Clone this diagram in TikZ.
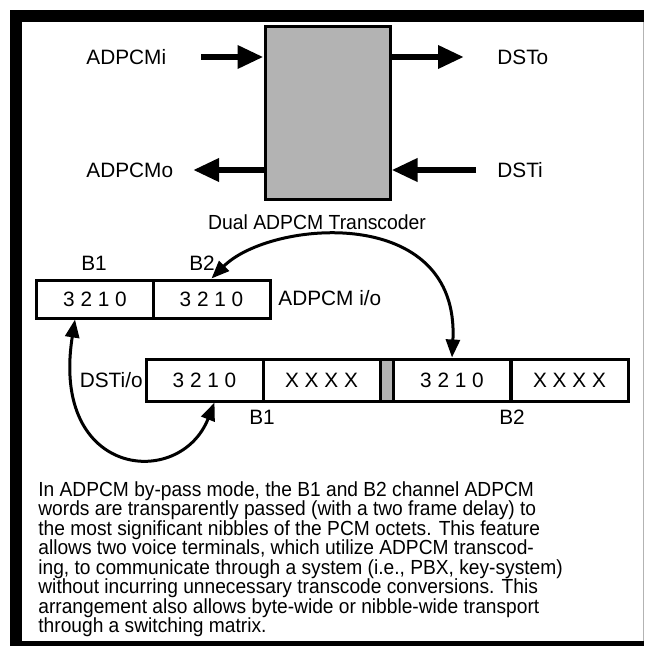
\documentclass[tikz,border=0pt]{standalone}
\usepackage{fontspec}
\setmainfont{Liberation Sans}
\usetikzlibrary{arrows.meta,positioning}
\definecolor{boxgray}{RGB}{179,179,179}

\begin{document}
\begin{tikzpicture}[x=0.5pt,y=-0.5pt,
		font=\fontsize{10.4}{11.35}\selectfont,
		fatarrow/.style={line width=3.2pt,-{Triangle[length=13pt,width=11pt]}},
		swing/.style={line width=1.5pt,{Triangle[length=9pt,width=7pt]}-{Triangle[length=9pt,width=7pt]}},
		cell/.style={draw,line width=1.5pt,minimum width=58.5pt,inner sep=0pt}]
		\useasboundingbox (0,0) rectangle (644,646);
		% frame
		\fill (10,10) rectangle (644,22);
		\fill (10,10) rectangle (22,646);
		\fill (10,641) rectangle (644,646);
		\draw [boxgray,line width=0.5pt] (643,22) -- (643,641);
		
		% transcoder
		\node (codec) [draw,line width=1.5pt,fill=boxgray,minimum width=62.5pt,minimum height=86.5pt] at (327.5,113.5) {};
		\node (title) [font=\fontsize{10.2}{11}\selectfont\addfontfeature{FakeStretch=0.95}] at (317,222) {Dual ADPCM Transcoder};
		\node (adin) [anchor=west,inner sep=0pt] at (86,57) {ADPCMi};
		\node (adout) [anchor=west,inner sep=0pt] at (86,170) {ADPCMo};
		\node (dsout) [anchor=west,inner sep=0pt] at (497,57) {DSTo};
		\node (dsin) [anchor=west,inner sep=0pt] at (497,170) {DSTi};
		\coordinate (adinS) at (201,57);
		\coordinate (adoutE) at (193,170);
		\coordinate (dsoutE) at (464,57);
		\coordinate (dsinS) at (476,170);
		
		\draw [fatarrow] (adinS) -- (adinS -| codec.west);
		\draw [fatarrow] (adoutE -| codec.west) -- (adoutE);
		\draw [fatarrow] (dsoutE -| codec.east) -- (dsoutE);
		\draw [fatarrow] (dsinS) -- (dsinS -| codec.east);
		
		% ADPCM i/o
		\node (adB1) [cell,minimum height=19pt] at (95,299) {3 2 1 0};
		\node (adB2) [cell,minimum height=19pt] at (211.5,299) {3 2 1 0};
		\node (lab1) at (94,263) {B1};
		\node (lab2) at (202,263) {B2};
		\node (adio) [anchor=west,inner sep=0pt] at (278,298) {ADPCM i/o};
		
		% DST i/o
		\node (dsB1) [cell,minimum height=21pt] at (204.5,380) {3 2 1 0};
		\node (dsX1) [cell,minimum height=21pt] at (321.5,380) {X X X X};
		\node (gap) [cell,minimum height=21pt,minimum width=6.5pt,fill=boxgray] at (386.5,380) {};
		\node (dsB2) [cell,minimum height=21pt] at (452,380) {3 2 1 0};
		\node (dsX2) [cell,minimum height=21pt] at (569.5,380) {X X X X};
		\node (dsio) [anchor=east,inner sep=0pt] at (143,380) {DSTi/o};
		\node (low1) at (262,417) {B1};
		\node (low2) at (512,417) {B2};
		
		\draw [swing] (adB2.north) .. controls (270,220) and (460,203) .. (dsB2.north);
		\draw [swing] ([xshift=-10pt]adB1.south) .. controls (50,478) and (180,490) .. ([xshift=5pt]dsB1.south);
		
		% text
		\node (note) [anchor=north west,align=left,inner sep=0pt,font=\fontsize{10.2}{9.75}\selectfont\addfontfeature{FakeStretch=0.94}] at (38,481) {In ADPCM by-pass mode, the B1 and B2 channel ADPCM\\
			words are transparently passed (with a two frame delay) to\\
			the most significant nibbles of the PCM octets. This feature\\
			allows two voice terminals, which utilize ADPCM transcod-\\
			ing, to communicate through a system (i.e., PBX, key-system)\\
			without incurring unnecessary transcode conversions. This\\
			arrangement also allows byte-wide or nibble-wide transport\\
			through a switching matrix.};
\end{tikzpicture}
\end{document}
